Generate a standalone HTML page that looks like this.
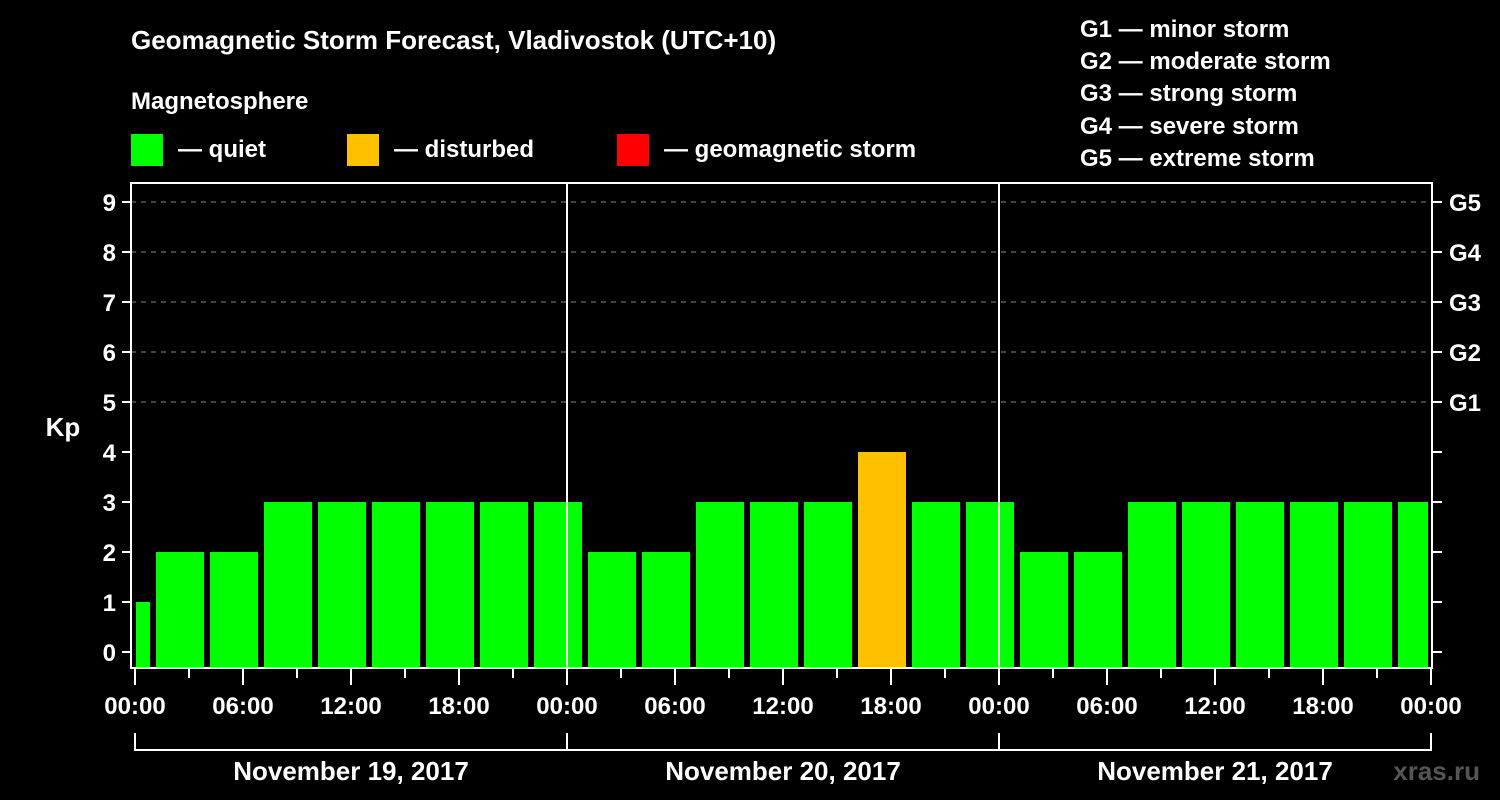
<!DOCTYPE html>
<html><head><meta charset="utf-8"><style>
body{margin:0;background:#000;}
svg{display:block;font-family:"Liberation Sans",Arial,sans-serif;font-weight:bold;}
</style></head><body>
<svg id="chart" width="1500" height="800" viewBox="0 0 1500 800">
<rect width="1500" height="800" fill="#000"/>
<text x="131" y="49" fill="#fff" font-size="26">Geomagnetic Storm Forecast, Vladivostok (UTC+10)</text>
<text x="131" y="109" fill="#fff" font-size="24">Magnetosphere</text>
<g><rect x="131" y="134" width="32" height="32" fill="#00ff00"/><text x="178" y="157" fill="#fff" font-size="24">— quiet</text></g>
<g><rect x="347" y="134" width="32" height="32" fill="#ffc000"/><text x="394" y="157" fill="#fff" font-size="24">— disturbed</text></g>
<g><rect x="617" y="134" width="32" height="32" fill="#ff0000"/><text x="664" y="157" fill="#fff" font-size="24">— geomagnetic storm</text></g>
<g fill="#fff" font-size="24">
<text x="1080" y="37">G1 — minor storm</text>
<text x="1080" y="69">G2 — moderate storm</text>
<text x="1080" y="101">G3 — strong storm</text>
<text x="1080" y="134">G4 — severe storm</text>
<text x="1080" y="166">G5 — extreme storm</text>
</g>
<text x="63" y="436" fill="#fff" font-size="26" text-anchor="middle">Kp</text>
<g id="grid"></g><g id="bars"></g><g id="axes"></g>
<text x="1480" y="780" fill="#555" font-size="26" text-anchor="end">xras.ru</text>
</svg>
<script>
const values=[1,2,2,3,3,3,3,3,3,2,2,3,3,3,4,3,3,2,2,3,3,3,3,3,3];
const dayLabels=["November 19, 2017","November 20, 2017","November 21, 2017"];
const hourLabels=["00:00","06:00","12:00","18:00"];
const gLabels=["G1","G2","G3","G4","G5"];
const firstBinStartHour=-2;
const NS="http://www.w3.org/2000/svg";
const x0=135,hourPx=18,y0=652,unitPx=50,plotL=131,plotR=1432,plotT=183,plotB=668;
const X=h=>x0+h*hourPx, Y=v=>y0-v*unitPx;
function mk(tag,attrs,parent){const e=document.createElementNS(NS,tag);for(const k in attrs)e.setAttribute(k,attrs[k]);parent.appendChild(e);return e;}
const grid=document.getElementById('grid'),bars=document.getElementById('bars'),axes=document.getElementById('axes');
for(let v=5;v<=9;v++){const l=mk('line',{x1:plotL,x2:plotR,y1:Y(v),y2:Y(v),stroke:'#888','stroke-dasharray':'5,5'},grid);

}
values.forEach((v,i)=>{const h0=firstBinStartHour+i*3;let a=X(h0)+3,b=X(h0+3)-3;a=Math.max(a,136);b=Math.min(b,1428);
const c=v>=5?'#ff0000':(v>=4?'#ffc000':'#00ff00');
const r=mk('rect',{x:a,y:Y(v),width:b-a,height:plotB-Y(v),fill:c},bars);

});
// frame
const f=mk('path',{d:`M${plotL} ${plotT}H${plotR}V${plotB}H${plotL}Z`,fill:'none',stroke:'#fff','stroke-width':2},axes);


[1,2].forEach(d=>{const l=mk('line',{x1:X(24*d),x2:X(24*d),y1:plotT,y2:plotB,stroke:'#fff','stroke-width':2},axes);

});
for(let v=0;v<=9;v++){mk('line',{x1:122,x2:plotL,y1:Y(v),y2:Y(v),stroke:'#fff','stroke-width':2},axes);
mk('line',{x1:plotR,x2:1442,y1:Y(v),y2:Y(v),stroke:'#fff','stroke-width':2},axes);
const t=mk('text',{x:116,y:Y(v)+9,fill:'#fff','font-size':24,'text-anchor':'end'},axes);t.textContent=v;


if(v>=5){const g=mk('text',{x:1449,y:Y(v)+9,fill:'#fff','font-size':24},axes);g.textContent=gLabels[v-5];

}}
for(let h=0;h<=72;h+=3){const major=h%6===0;mk('line',{x1:X(h),x2:X(h),y1:plotB,y2:major?685:678,stroke:'#fff','stroke-width':2},axes);
if(major){const t=mk('text',{x:X(h),y:714,fill:'#fff','font-size':24,'text-anchor':'middle'},axes);t.textContent=hourLabels[(h%24)/6];

}}
dayLabels.forEach((d,i)=>{const a=X(24*i),b=X(24*(i+1));
mk('path',{d:`M${a} 733V750H${b}V733`,fill:'none',stroke:'#fff','stroke-width':2},axes);
const t=mk('text',{x:(a+b)/2,y:780,fill:'#fff','font-size':26,'text-anchor':'middle'},axes);t.textContent=d;

});
</script>
</body></html>
